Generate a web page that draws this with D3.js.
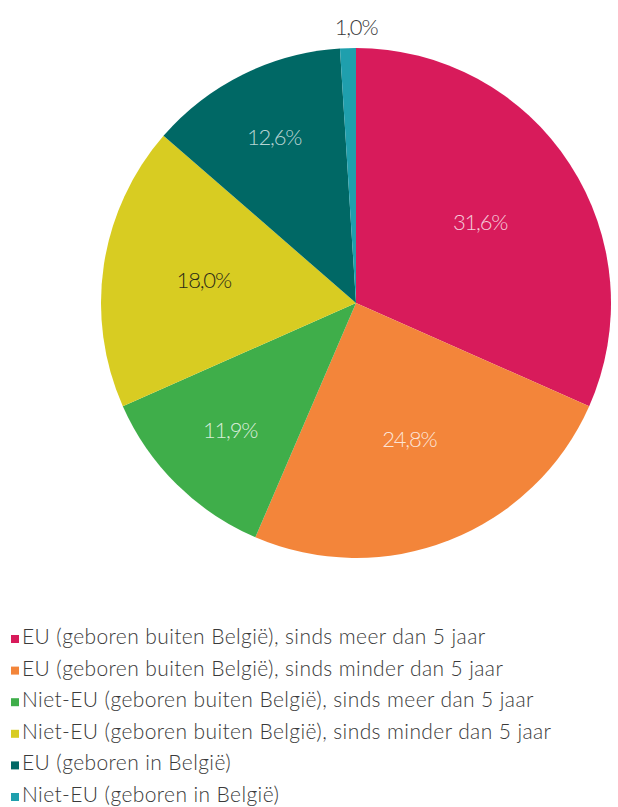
<!DOCTYPE html>
<html>
<head>
<meta charset="utf-8">
<script src="https://cdn.jsdelivr.net/npm/d3@7/dist/d3.min.js"></script>
<style>
  html, body { margin: 0; padding: 0; background: #fff; }
  svg { display: block; }
  text { font-family: Lato, "Open Sans", sans-serif; font-weight: 300; }
</style>
</head>
<body>
<svg id="chart" width="618" height="807"></svg>
<script>
const categories = [
  "EU (geboren buiten België), sinds meer dan 5 jaar",
  "EU (geboren buiten België), sinds minder dan 5 jaar",
  "Niet-EU (geboren buiten België), sinds meer dan 5 jaar",
  "Niet-EU (geboren buiten België), sinds minder dan 5 jaar",
  "EU (geboren in België)",
  "Niet-EU (geboren in België)"
];
const values = [31.6, 24.8, 11.9, 18.0, 12.6, 1.0];
const valueLabels = ["31,6%", "24,8%", "11,9%", "18,0%", "12,6%", "1,0%"];
const colors = ["#d81b5b", "#f3853a", "#3fae4a", "#d8cc22", "#006865", "#1f9fad"];

// styling / layout
const labelColors = ["rgba(255,255,255,0.78)", "rgba(255,255,255,0.8)", "rgba(255,255,255,0.8)", "#2b2a18", "rgba(255,255,255,0.72)", "#3a3a3a"];
const labelRadii = [148, 146, 179, 154, 185, 276];

const svg = d3.select("#chart");
const cx = 356, cy = 303, R = 255;

const pie = d3.pie().sort(null).value(d => d)
  .startAngle(0).endAngle(2 * Math.PI);
const arcs = pie(values);
const arc = d3.arc().innerRadius(0).outerRadius(R);

const g = svg.append("g").attr("transform", `translate(${cx},${cy})`);
g.selectAll("path.slice").data(arcs).join("path")
  .attr("class", "slice")
  .attr("d", arc)
  .attr("fill", (d, i) => colors[i]);

g.selectAll("text.lbl").data(arcs).join("text")
  .attr("class", "lbl")
  .attr("transform", (d, i) => {
    const a = i === arcs.length - 1 ? d.endAngle : (d.startAngle + d.endAngle) / 2;
    const r = labelRadii[i];
    return `translate(${r * Math.sin(a)},${-r * Math.cos(a)})`;
  })
  .attr("text-anchor", "middle")
  .attr("dy", "0.36em")
  .attr("font-size", 22)
  .attr("letter-spacing", "-1.2px")
  .attr("fill", (d, i) => labelColors[i])
  .text((d, i) => valueLabels[i]);

// legend
const legendY = d3.scalePoint().domain(d3.range(categories.length)).range([644, 802]);
const leg = svg.append("g");
const items = leg.selectAll("g").data(categories).join("g")
  .attr("transform", (d, i) => `translate(0,${legendY(i)})`);
items.append("rect")
  .attr("x", 11).attr("y", -9).attr("width", 8).attr("height", 8)
  .attr("fill", (d, i) => colors[i]);
items.append("text")
  .attr("x", 22).attr("y", 0)
  .attr("font-size", 21)
  .attr("letter-spacing", "0.4px")
  .attr("fill", "#3a3a3a")
  .text(d => d);
</script>
</body>
</html>
